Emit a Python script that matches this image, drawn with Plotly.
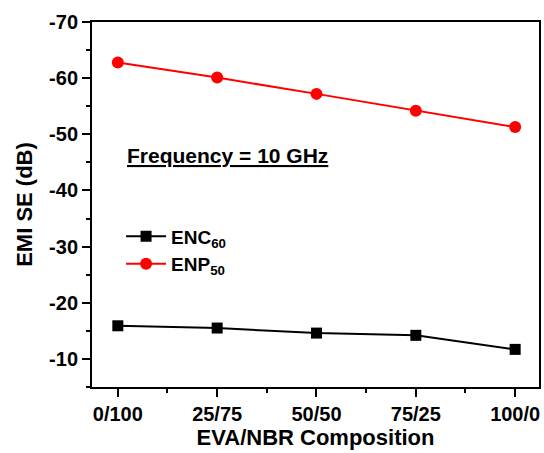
import plotly.graph_objects as go

categories = ["0/100", "25/75", "50/50", "75/25", "100/0"]
enc60 = [-15.9, -15.5, -14.6, -14.2, -11.7]
enp50 = [-62.8, -60.1, -57.2, -54.2, -51.3]
y_ticks = [-70, -60, -50, -40, -30, -20, -10]

xpos = list(range(len(categories)))
FONT = "Liberation Sans, Arial, sans-serif"

fig = go.Figure()
fig.add_trace(go.Scatter(
    x=xpos, y=enc60, mode="lines+markers", name="ENC<sub>60</sub>",
    line=dict(color="black", width=2),
    marker=dict(symbol="square", size=11, color="black"),
))
fig.add_trace(go.Scatter(
    x=xpos, y=enp50, mode="lines+markers", name="ENP<sub>50</sub>",
    line=dict(color="#ff0000", width=2),
    marker=dict(symbol="circle", size=12, color="#ff0000"),
))

fig.add_annotation(
    x=0.073, y=0.635, xref="paper", yref="paper", xanchor="left", yanchor="middle",
    text="<b><u>Frequency = 10 GHz</u></b>", showarrow=False,
    font=dict(family=FONT, size=21, color="black"),
)

fig.update_layout(
    width=544, height=453,
    margin=dict(l=92, r=3, t=22, b=66),
    paper_bgcolor="white", plot_bgcolor="white",
    font=dict(family=FONT, color="black"),
    showlegend=True,
    legend=dict(
        x=0.065, y=0.465, xanchor="left", yanchor="top",
        bgcolor="rgba(0,0,0,0)", font=dict(family=FONT, size=19, color="black", weight="bold"),
        itemwidth=40, tracegroupgap=0,
    ),
    xaxis=dict(
        range=[-0.26, 4.24], tickmode="array", tickvals=xpos, ticktext=categories,
        showgrid=False, zeroline=False, showline=True, linecolor="black", linewidth=2, mirror=True,
        ticks="outside", ticklen=8, tickwidth=2, tickcolor="black",
        tickfont=dict(family=FONT, size=20, color="black", weight="bold"),
        minor=dict(tickmode="linear", tick0=0.5, dtick=1, ticks="outside", ticklen=4, tickwidth=2, tickcolor="black", showgrid=False),
        title=dict(text="<b>EVA/NBR Composition</b>", font=dict(family=FONT, size=22, color="black"), standoff=4),
    ),
    yaxis=dict(
        range=[-5, -70], tickmode="array", tickvals=y_ticks, ticktext=[str(v) for v in y_ticks],
        showgrid=False, zeroline=False, showline=True, linecolor="black", linewidth=2, mirror=True,
        ticks="outside", ticklen=8, tickwidth=2, tickcolor="black",
        tickfont=dict(family=FONT, size=20, color="black", weight="bold"),
        minor=dict(tickmode="linear", tick0=-70, dtick=5, ticks="outside", ticklen=4, tickwidth=2, tickcolor="black", showgrid=False),
        title=dict(text="<b>EMI SE (dB)</b>", font=dict(family=FONT, size=22, color="black"), standoff=10),
    ),
)

fig.write_html("out.html")
